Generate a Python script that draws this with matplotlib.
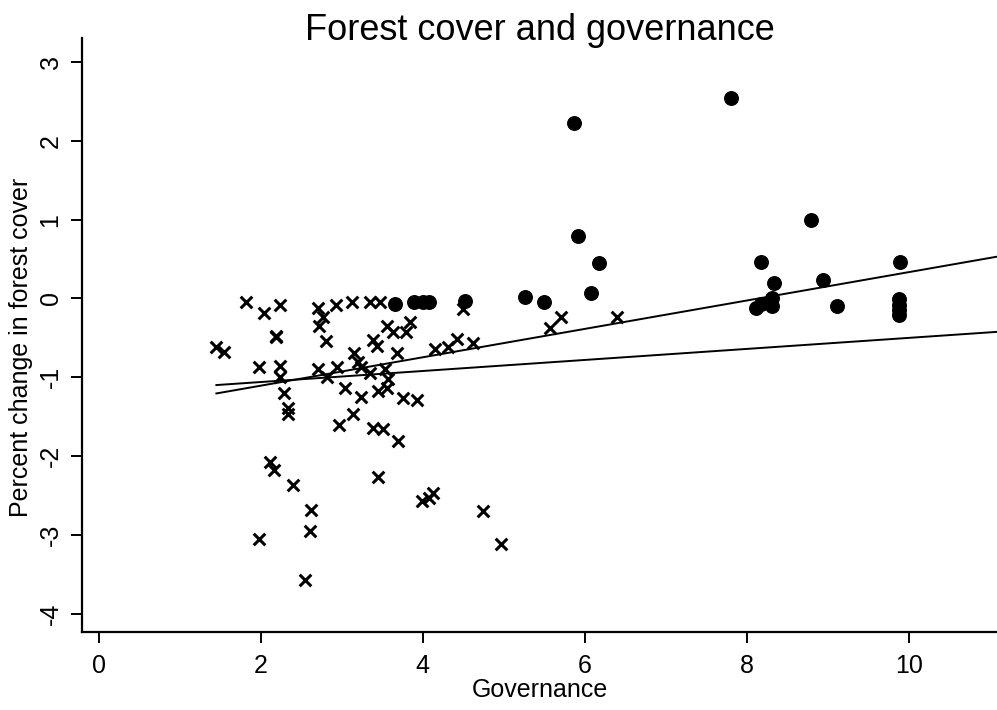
import numpy as np
import matplotlib
matplotlib.use("Agg")
import matplotlib.pyplot as plt

plt.rcParams['font.family'] = ['Liberation Sans', 'DejaVu Sans']
plt.rcParams['axes.unicode_minus'] = False

# low governance countries (crosses)
gov_x = [1.82, 2.04, 2.23, 2.70, 2.93, 3.12, 3.35, 3.47, 4.50, 2.77, 2.72,
         2.19, 2.19, 2.80, 3.56, 3.63, 3.84, 3.79, 1.45, 1.54, 3.39, 3.43,
         3.68, 4.15, 4.31, 4.42, 4.62, 1.98, 2.23, 2.23, 2.28, 2.34, 2.34,
         2.71, 2.82, 2.94, 3.15, 3.20, 3.23, 3.35, 3.53, 3.57, 3.04, 3.23,
         3.45, 3.56, 3.76, 3.93, 3.14, 2.96, 3.39, 3.51, 3.69, 2.11, 2.16,
         3.45, 2.40, 2.62, 2.60, 1.98, 2.54, 3.99, 4.08, 4.13, 4.74, 4.96,
         5.70, 5.57, 6.40]
chg_x = [-0.04, -0.19, -0.08, -0.12, -0.08, -0.05, -0.05, -0.05, -0.13, -0.24, -0.35,
         -0.47, -0.49, -0.54, -0.35, -0.43, -0.30, -0.42, -0.61, -0.68, -0.53, -0.60,
         -0.69, -0.64, -0.61, -0.52, -0.56, -0.87, -0.86, -1.00, -1.20, -1.39, -1.46,
         -0.90, -1.00, -0.87, -0.69, -0.81, -0.87, -0.94, -0.89, -1.02, -1.13, -1.25,
         -1.17, -1.14, -1.26, -1.29, -1.46, -1.60, -1.64, -1.65, -1.81, -2.08, -2.18,
         -2.26, -2.37, -2.68, -2.95, -3.05, -3.57, -2.57, -2.53, -2.47, -2.70, -3.12,
         -0.24, -0.38, -0.24]

# high governance countries (filled circles)
gov_o = [3.66, 3.89, 4.00, 4.08, 4.52, 5.26, 5.50, 5.87, 5.92, 6.08, 6.18,
         7.80, 8.11, 8.18, 8.18, 8.31, 8.31, 8.33, 8.79, 8.94, 9.11, 9.89,
         9.88, 9.88, 9.88, 9.88]
chg_o = [-0.07, -0.05, -0.05, -0.05, -0.03, 0.02, -0.05, 2.22, 0.79, 0.07, 0.45,
         2.54, -0.12, -0.07, 0.46, 0.00, -0.10, 0.20, 1.00, 0.24, -0.10, 0.46,
         -0.01, -0.08, -0.14, -0.21]

# fitted lines: (intercept at x=0, slope)
fit_steep = (-1.466, 0.180)
fit_flat = (-1.20, 0.070)
x_line = np.array([1.45, 11.1])

fig = plt.figure(figsize=(9.97, 7.1), dpi=100)
ax = fig.add_axes([0.0822, 0.110, 0.9178, 0.836])

ax.scatter(gov_x, chg_x, marker='x', s=70, c='black', linewidths=2.2, zorder=3)
ax.scatter(gov_o, chg_o, marker='o', s=95, c='black', edgecolors='black', zorder=3)
ax.plot(x_line, fit_steep[0] + fit_steep[1] * x_line, color='black', lw=1.4)
ax.plot(x_line, fit_flat[0] + fit_flat[1] * x_line, color='black', lw=1.4)

ax.set_xlim(-0.21, 11.09)
ax.set_ylim(-4.23, 3.3)
ax.set_xticks([0, 2, 4, 6, 8, 10])
ax.set_yticks([-4, -3, -2, -1, 0, 1, 2, 3])
ax.spines['top'].set_visible(False)
ax.spines['right'].set_visible(False)
ax.spines['left'].set_linewidth(1.6)
ax.spines['bottom'].set_linewidth(1.6)
ax.tick_params(direction='out', length=8, width=1.4, labelsize=18)
ax.tick_params(axis='x', pad=8)
ax.tick_params(axis='y', pad=6)
for lab in ax.get_yticklabels():
    lab.set_rotation(90)
    lab.set_va('center')

ax.set_xlabel('Governance', fontsize=18, labelpad=0)
ax.set_ylabel('Percent change in forest cover', fontsize=18)
ax.yaxis.set_label_coords(-0.054, 0.48)
fig.text(0.541, 1 - 40 / 710, 'Forest cover and governance', fontsize=26,
         ha='center', va='baseline')

fig.savefig('out.png', dpi=100)
